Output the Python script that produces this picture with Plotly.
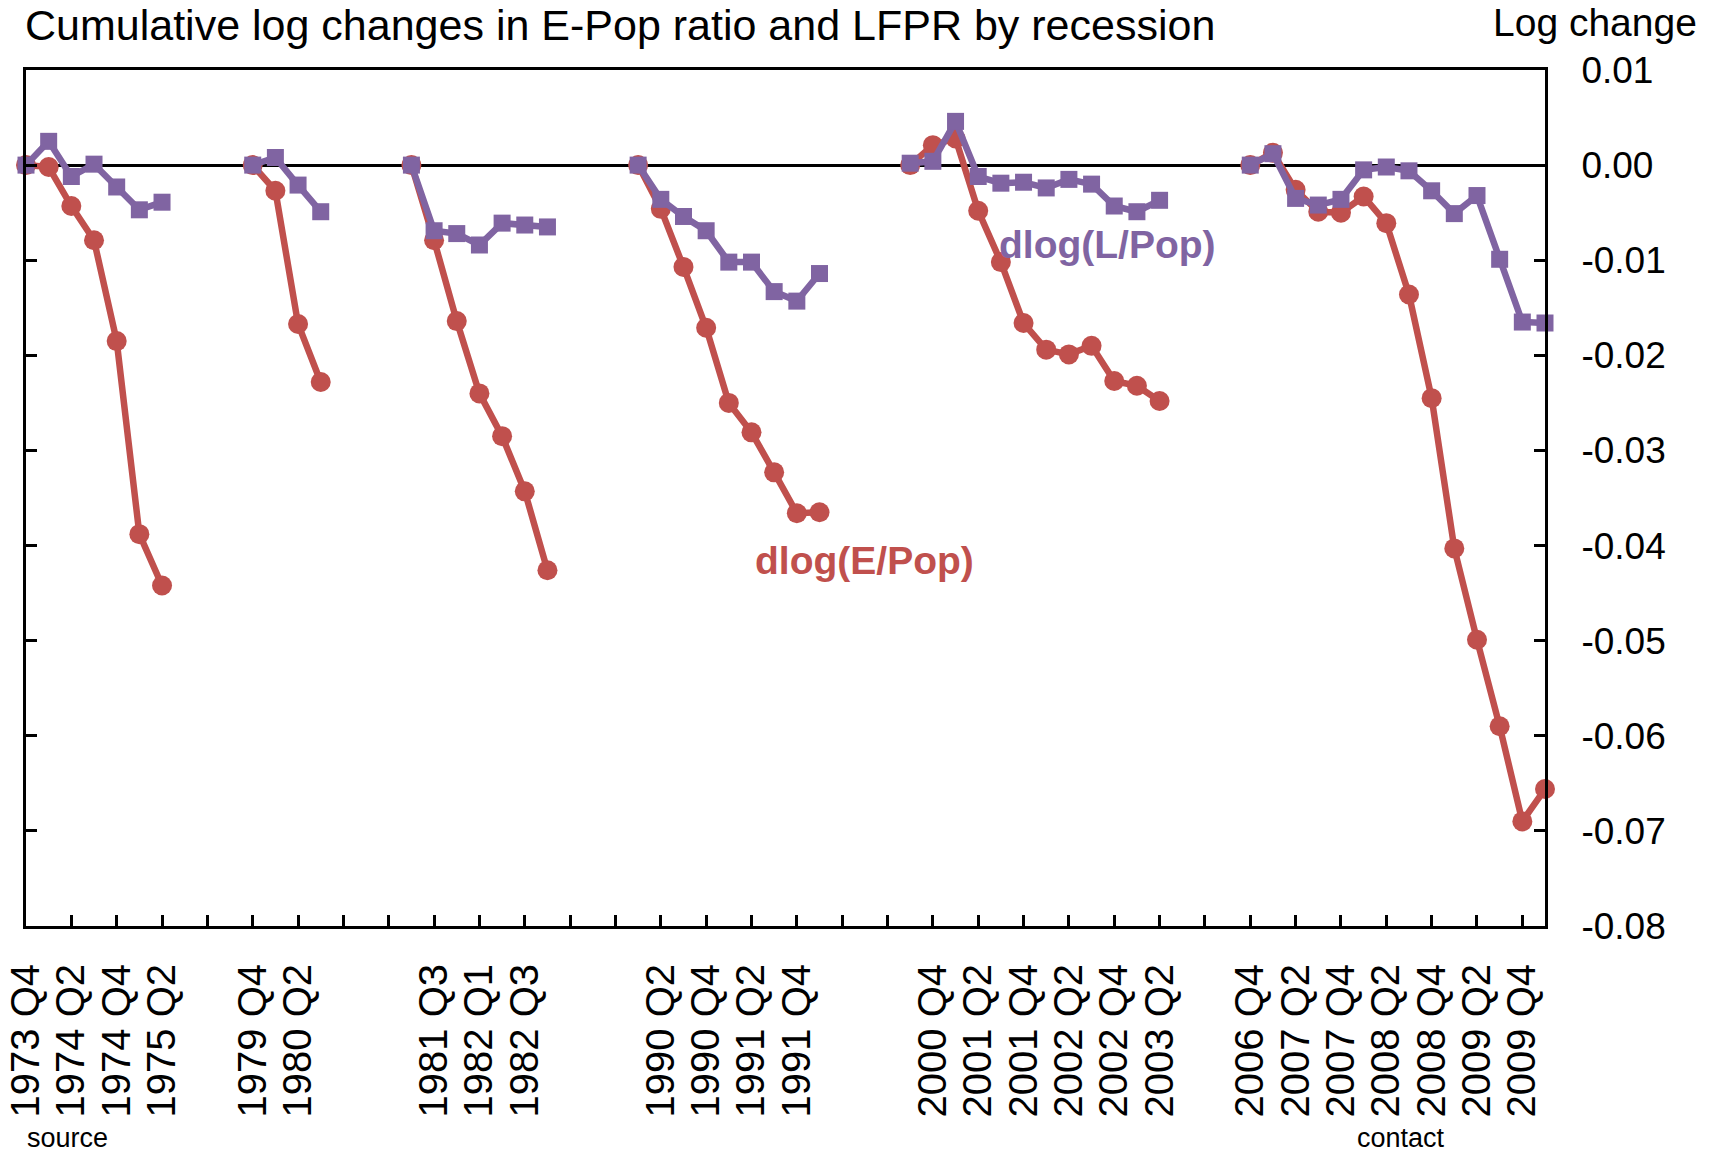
import plotly.graph_objects as go

# ---------------- data ----------------
categories = [
    "1973 Q4", "1974 Q1", "1974 Q2", "1974 Q3", "1974 Q4", "1975 Q1", "1975 Q2",
    "", "", "",
    "1979 Q4", "1980 Q1", "1980 Q2", "1980 Q3",
    "", "", "",
    "1981 Q2", "1981 Q3", "1981 Q4", "1982 Q1", "1982 Q2", "1982 Q3", "1982 Q4",
    "", "", "",
    "1990 Q1", "1990 Q2", "1990 Q3", "1990 Q4", "1991 Q1", "1991 Q2", "1991 Q3", "1991 Q4", "1992 Q1",
    "", "", "",
    "2000 Q3", "2000 Q4", "2001 Q1", "2001 Q2", "2001 Q3", "2001 Q4", "2002 Q1", "2002 Q2",
    "2002 Q3", "2002 Q4", "2003 Q1", "2003 Q2",
    "", "", "",
    "2006 Q4", "2007 Q1", "2007 Q2", "2007 Q3", "2007 Q4", "2008 Q1", "2008 Q2", "2008 Q3",
    "2008 Q4", "2009 Q1", "2009 Q2", "2009 Q3", "2009 Q4", "2010 Q1",
]

dlog_epop = [
    0.0000, -0.0002, -0.0043, -0.0079, -0.0185, -0.0388, -0.0442,
    None, None, None,
    0.0000, -0.0027, -0.0167, -0.0228,
    None, None, None,
    0.0000, -0.0079, -0.0164, -0.0240, -0.0285, -0.0343, -0.0426,
    None, None, None,
    0.0000, -0.0046, -0.0107, -0.0171, -0.0250, -0.0281, -0.0323, -0.0366, -0.0365,
    None, None, None,
    0.0000, 0.0021, 0.0028, -0.0048, -0.0102, -0.0166, -0.0194, -0.0199,
    -0.0190, -0.0227, -0.0232, -0.0248,
    None, None, None,
    0.0000, 0.0013, -0.0026, -0.0049, -0.0050, -0.0033, -0.0061, -0.0136,
    -0.0245, -0.0403, -0.0499, -0.0590, -0.0690, -0.0656,
]

dlog_lpop = [
    0.0000, 0.0025, -0.0012, 0.0001, -0.0023, -0.0047, -0.0039,
    None, None, None,
    0.0000, 0.0008, -0.0021, -0.0049,
    None, None, None,
    0.0000, -0.0069, -0.0072, -0.0084, -0.0061, -0.0063, -0.0065,
    None, None, None,
    0.0000, -0.0036, -0.0054, -0.0069, -0.0102, -0.0102, -0.0133, -0.0143, -0.0114,
    None, None, None,
    0.0002, 0.0004, 0.0046, -0.0012, -0.0019, -0.0018, -0.0024, -0.0015,
    -0.0020, -0.0043, -0.0049, -0.0037,
    None, None, None,
    0.0000, 0.0012, -0.0035, -0.0042, -0.0036, -0.0005, -0.0002, -0.0006,
    -0.0027, -0.0051, -0.0032, -0.0099, -0.0165, -0.0166,
]

y_tick_values = [0.01, 0.00, -0.01, -0.02, -0.03, -0.04, -0.05, -0.06, -0.07, -0.08]
y_tick_labels = ["0.01", "0.00", "-0.01", "-0.02", "-0.03", "-0.04", "-0.05", "-0.06", "-0.07", "-0.08"]

# ---------------- figure ----------------
RED = "#C0504D"
PURPLE = "#8064A2"
FONT = "Liberation Sans, Arial, sans-serif"

x_pos = list(range(len(categories)))
x_tick_pos = x_pos[::2]
x_tick_text = categories[::2]

fig = go.Figure()
fig.add_trace(go.Scatter(
    x=x_pos, y=dlog_epop, mode="lines+markers", name="dlog(E/Pop)",
    line=dict(color=RED, width=6.5), marker=dict(symbol="circle", size=20, color=RED),
    connectgaps=False, cliponaxis=False, showlegend=False,
))
fig.add_trace(go.Scatter(
    x=x_pos, y=dlog_lpop, mode="lines+markers", name="dlog(L/Pop)",
    line=dict(color=PURPLE, width=6.5), marker=dict(symbol="square", size=17, color=PURPLE),
    connectgaps=False, cliponaxis=False, showlegend=False,
))

fig.update_layout(
    width=1717, height=1155,
    margin=dict(l=26, r=172, t=70, b=229, pad=0, autoexpand=False),
    paper_bgcolor="white", plot_bgcolor="white",
    font=dict(family=FONT, color="black"),
    showlegend=False,
    xaxis=dict(
        range=[0, len(categories) - 1], automargin=False,
        tickmode="array", tickvals=x_tick_pos, ticktext=x_tick_text,
        tickangle=-90, tickfont=dict(size=40, family=FONT, color="black"),
        ticks="inside", ticklen=11, tickwidth=2.5, tickcolor="black",
        showline=True, linecolor="black", linewidth=3, mirror=True,
        showgrid=False, zeroline=False, ticklabelstandoff=19,
        layer="above traces",
    ),
    yaxis=dict(
        range=[-0.08, 0.01], side="right", automargin=False,
        tickmode="array", tickvals=y_tick_values, ticktext=y_tick_labels,
        tickfont=dict(size=37, family=FONT, color="black"),
        ticks="inside", ticklen=11, tickwidth=2.5, tickcolor="black",
        showline=True, linecolor="black", linewidth=3, mirror="ticks",
        showgrid=False, zeroline=True, zerolinecolor="black", zerolinewidth=3,
        ticklabelstandoff=26, layer="above traces",
    ),
    annotations=[
        dict(text="Cumulative log changes in E-Pop ratio and LFPR by recession",
             xref="paper", yref="paper", x=-0.0013, y=1.0815, xanchor="left", yanchor="top",
             showarrow=False, borderpad=0,
             font=dict(size=43, family=FONT, color="black")),
        dict(text="Log change", xref="paper", yref="paper", x=1.033, y=1.056,
             xanchor="center", yanchor="middle", showarrow=False,
             font=dict(size=39, family=FONT, color="black")),
        dict(text="<b>dlog(E/Pop)</b>", xref="x", yref="y", x=37.0, y=-0.0416,
             xanchor="center", yanchor="middle", showarrow=False,
             font=dict(size=39, family=FONT, color=RED)),
        dict(text="<b>dlog(L/Pop)</b>", xref="x", yref="y", x=47.7, y=-0.0083,
             xanchor="center", yanchor="middle", showarrow=False,
             font=dict(size=39, family=FONT, color=PURPLE)),
        dict(text="source", xref="paper", yref="paper", x=0, y=-0.2664,
             xanchor="left", yanchor="bottom", showarrow=False, borderpad=0,
             font=dict(size=27, family=FONT, color="black")),
        dict(text="contact", xref="paper", yref="paper", x=0.905, y=-0.2664,
             xanchor="center", yanchor="bottom", showarrow=False, borderpad=0,
             font=dict(size=27, family=FONT, color="black")),
    ],
)

fig.write_html("out.html", config={"displayModeBar": False},
               post_script="document.body.style.margin='0';")
